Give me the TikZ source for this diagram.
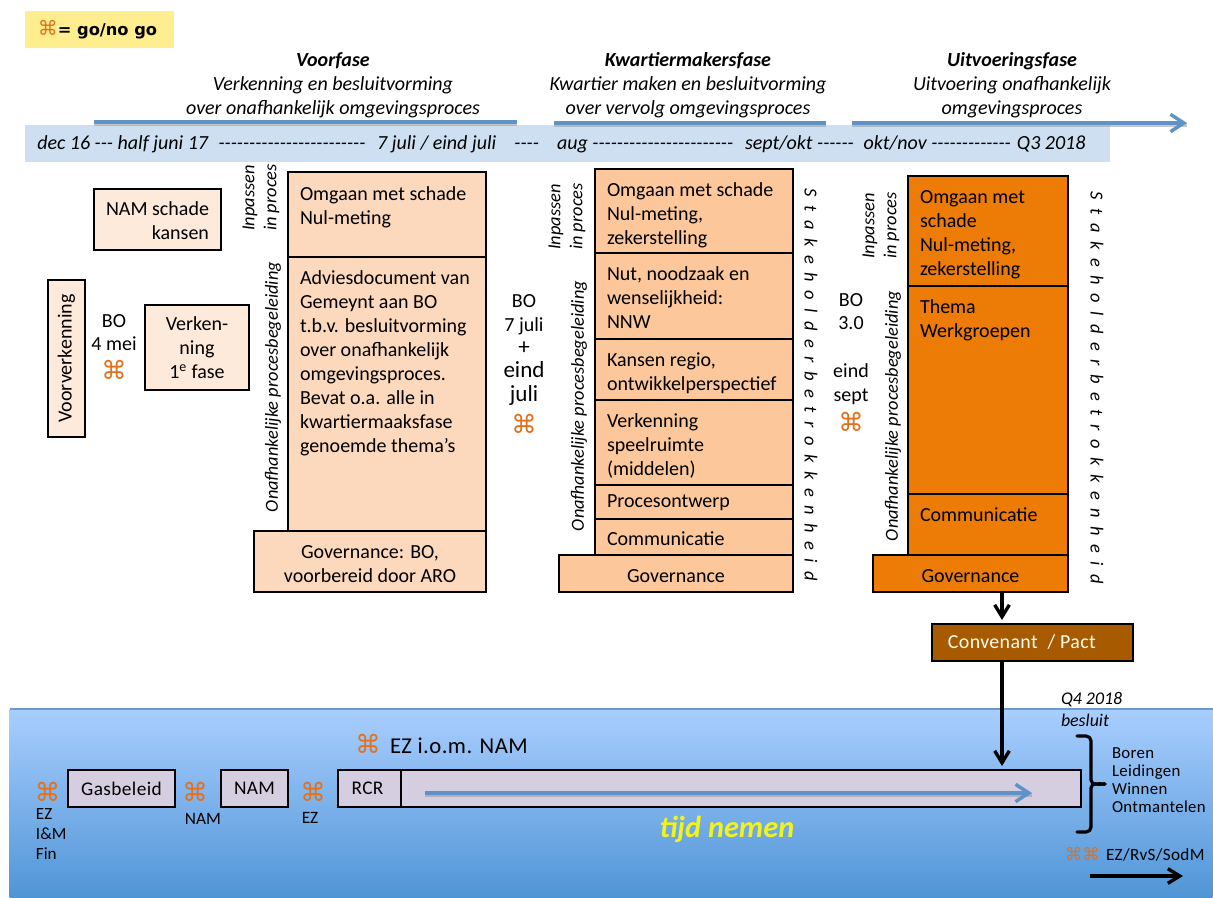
\documentclass[tikz,border=0pt]{standalone}
\usepackage{fontspec}
\setmainfont{Carlito}[Ligatures=TeXOff]
\newfontfamily\djfont{DejaVu Sans}
\newfontfamily\lsp{Carlito}[Ligatures=TeXOff,LetterSpace=2]
\usetikzlibrary{arrows.meta,calc}
\definecolor{cmdorange}{HTML}{E3701A}
\definecolor{legendyel}{HTML}{FFEE8F}
\definecolor{band}{HTML}{CEDFF1}
\definecolor{linkblue}{HTML}{5F93C8}
\definecolor{paleA}{HTML}{FDEADA}
\definecolor{fillA}{HTML}{FCD9BC}
\definecolor{fillB}{HTML}{FCC89B}
\definecolor{fillC}{HTML}{EC7C05}
\definecolor{brownC}{HTML}{A85A00}
\definecolor{barlil}{HTML}{D5CDE0}
\definecolor{paneltop}{HTML}{A9CEFF}
\definecolor{panelbot}{HTML}{4F95D6}
\definecolor{panelln}{HTML}{6A9BD0}
\definecolor{tijdyel}{HTML}{F2F21E}
\newcommand\fA{\fontsize{15}{17.8}\selectfont}
\newcommand\fB{\fontsize{15}{17.8}\selectfont}
\newcommand\fH{\fontsize{15}{18}\selectfont}
\newcommand\cmdsym[1][16]{{\djfont\fontsize{#1}{#1}\selectfont\textcolor{cmdorange}{⌘}}}
\newcommand\stk{\spaceskip=6.4pt\relax S t a k e h o l d e r b e t r o k k e n h e i d}
\newcommand\dn{\rule{0pt}{13.5pt}}
\tikzset{
  bx/.style={draw=black,line width=1.9pt,inner sep=0pt,outer sep=0pt,line join=miter},
  cbx/.style={bx,align=center,font=\fA},
  txt/.style={inner sep=0pt,outer sep=0pt,align=center},
  side/.style={txt,rotate=90,anchor=west,align=left,font=\fontsize{13.8}{16.5}\selectfont\itshape},
  blk/.style={draw=black,line width=2.5pt,-{Straight Barb[length=9pt,width=11pt,line width=2.5pt]},shorten >=3pt},
  linkln/.style={draw=linkblue,line width=2.6pt},
  shad/.style={draw=black!40,line width=2.4pt,opacity=.55}
}
\newlength\pbw\newlength\pbh
% name x1 y1 x2 y2 style pad text
\newcommand\pb[8]{%
  \pgfmathsetlength\pbw{(#4-#2)*0.75pt}\pgfmathsetlength\pbh{(#5-#3)*0.75pt}%
  \node[bx,#6] (#1) at ({(#2+#4)/2},{(#3+#5)/2}) {\parbox[c][\pbh][t]{\pbw}{\fA\raggedright\leftskip=9pt\relax\vspace*{#7pt}\strut #8\par}};}
% name x1 y1 x2 y2 style text
\newcommand\cb[7]{%
  \node[cbx,#6,minimum width={(#4-#2)*0.75pt},minimum height={(#5-#3)*0.75pt}] (#1) at ({(#2+#4)/2},{(#3+#5)/2}) {#7};}
\newcommand\seg[2]{\makebox[0pt][l]{\hspace*{#1pt}#2}}
\begin{document}
\begin{tikzpicture}[x=0.75pt,y=-0.75pt]
\useasboundingbox (0,0) rectangle (1213,898);
% legend
\node[fill=legendyel,minimum width=111.75pt,minimum height=27.75pt,inner sep=0pt] (legend) at (99.5,29.5) {\hspace*{-3pt}\cmdsym[15]{\djfont\fontsize{12.2}{14}\selectfont\bfseries = go/no go}};
% headers
\node[txt,font=\fH\itshape] (hvoor) at (333,85) {\textbf{Voorfase}\\Verkenning en besluitvorming\\over onafhankelijk omgevingsproces};
\node[txt,font=\fH\itshape] (hkw) at (688,85) {\textbf{Kwartiermakersfase}\\Kwartier maken en besluitvorming\\over vervolg omgevingsproces};
\node[txt,font=\fH\itshape] (huit) at (1012,85) {\textbf{Uitvoeringsfase}\\Uitvoering onafhankelijk\\omgevingsproces};
% date band
\node[fill=band,minimum width=813.75pt,minimum height=27.75pt,inner sep=0pt] (band) at (567.5,143.5) {};
\coordinate (l1a) at (94,122);\coordinate (l1b) at (517,122);
\coordinate (l2a) at (554,123);\coordinate (l2b) at (826,123);
\coordinate (l3a) at (852,123);\coordinate (l3b) at (1187,123);
\draw[shad] ([yshift=-1.5pt]l1a) -- ([yshift=-1.5pt]l1b);
\draw[shad] ([yshift=-1.5pt]l2a) -- ([yshift=-1.5pt]l2b);
\draw[shad] ([yshift=-1.5pt]l3a) -- ([yshift=-1.5pt]l3b);
\draw[linkln] (l1a) -- (l1b);
\draw[linkln] (l2a) -- (l2b);
\draw[linkln,-{Straight Barb[length=10pt,width=13pt,line width=2.6pt]}] (l3a) -- (l3b);
\node[inner sep=0pt,anchor=base west,font=\fH\itshape] (dates) at (37,150) {%
\seg{0}{dec 16 --- half juni 17}\seg{136}{------------------------}\seg{255}{7 juli / eind juli}\seg{358}{----}\seg{390}{aug -----------------------}\seg{531}{sept/okt ------}\seg{620}{okt/nov -------------}\seg{735}{Q3 2018}\hspace*{790pt}};
% left boxes
\cb{namsch}{94}{189}{221}{250}{fill=paleA}{\begin{tabular}{@{}r@{}}\rule{0pt}{17.5pt}NAM schade\\kansen\end{tabular}}
\node[cbx,fill=paleA,rotate=90,minimum width=117.75pt,minimum height=27.75pt] (vvk) at (66.5,358.5) {Voorverkenning};
\cb{verk}{145}{305}{249}{390}{fill=paleA}{Verken-\\ning\\1\textsuperscript{e} fase}
\node[txt,font=\fB] (bo1) at (114,332.5) {BO\\4 mei};
\node[txt] (c1) at (114,370) {\cmdsym[19]};
% voorfase
\pb{vA}{288}{172}{486}{257}{fill=fillA}{9.2}{Omgaan met schade\\Nul-meting}
\pb{vB}{288}{257}{486}{531}{fill=fillA}{8.5}{\fontsize{15}{18}\selectfont Adviesdocument van\\Gemeynt aan BO\\t.b.v. besluitvorming\\over onafhankelijk\\omgevingsproces.\\Bevat o.a. alle in\\kwartiermaaksfase\\genoemde thema’s}
\cb{vG}{254}{531}{486}{592}{fill=fillA}{\dn Governance: BO,\\voorbereid door ARO}
\node[side] (s1) at (261,231) {Inpassen\\in proces};
\node[side] (s2) at (273,512) {Onafhankelijke procesbegeleiding};
% BO 7 juli
\node[txt,font=\fB] (bo2) at (524,314.5) {BO\\7 juli};
\node[txt,font=\fontsize{17.3}{17.8}\selectfont] (bo2b) at (524,373.5) {+\\eind\\juli};
\node[txt] (c2) at (524,424) {\cmdsym[19]};
% kwartier
\pb{kA}{595}{169}{793}{253}{fill=fillB}{8.5}{Omgaan met schade\\Nul-meting,\\zekerstelling}
\pb{kB}{595}{253}{793}{339}{fill=fillB}{8.5}{Nut, noodzaak en\\wenselijkheid:\\NNW}
\pb{kC}{595}{339}{793}{400}{fill=fillB}{8.5}{Kansen regio,\\ontwikkelperspectief}
\pb{kD}{595}{400}{793}{485}{fill=fillB}{8.5}{Verkenning\\speelruimte\\(middelen)}
\pb{kE}{595}{485}{793}{519}{fill=fillB}{4.5}{Procesontwerp}
\pb{kF}{595}{519}{793}{555}{fill=fillB}{7.5}{Communicatie}
\cb{kG}{559}{555}{793}{592}{fill=fillB}{\dn Governance}
\node[side] (s3) at (567,250) {Inpassen\\in proces};
\node[side] (s4) at (579,531) {Onafhankelijke procesbegeleiding};
\node[txt,rotate=-90,anchor=west,font=\fontsize{13.8}{16}\selectfont\itshape] (st1) at (811,189) {\stk};
% BO 3.0
\node[txt,font=\fB] (bo3) at (851,311.5) {BO\\3.0};
\node[txt,font=\fB] (bo3b) at (851,384) {eind\\sept};
\node[txt] (c3) at (851,422) {\cmdsym[19]};
% uitvoering
\pb{uA}{908}{176}{1068}{286}{fill=fillC}{8.5}{Omgaan met\\schade\\Nul-meting,\\zekerstelling}
\pb{uB}{908}{286}{1068}{494}{fill=fillC}{8.5}{Thema\\Werkgroepen}
\pb{uC}{908}{494}{1068}{555}{fill=fillC}{8.5}{Communicatie}
\cb{uG}{873}{555}{1068}{592}{fill=fillC}{\dn Governance}
\node[side] (s5) at (881,259) {Inpassen\\in proces};
\node[side] (s6) at (893,541) {Onafhankelijke procesbegeleiding};
\node[txt,rotate=-90,anchor=west,font=\fontsize{13.8}{16}\selectfont\itshape] (st2) at (1097,192) {\stk};
% panel
\node[top color=paneltop,bottom color=panelbot,minimum width=902.25pt,minimum height=141.75pt,inner sep=0pt,outer sep=0pt] (panel) at (611,803.5) {};
\draw[panelln,line width=1.5pt] (panel.north west) -- (panel.north east);
% convenant
\cb{conv}{932}{624}{1133}{661}{fill=brownC,text=white!95!yellow,font=\lsp\fontsize{14.9}{15}\selectfont}{Convenant\ \ / Pact\hspace*{16pt}}
% bottom row
\cb{gas}{68}{770}{175}{807}{fill=barlil,font=\lsp\fontsize{14.5}{15}\selectfont}{Gasbeleid}
\cb{nam}{221}{770}{288}{807}{fill=barlil,font=\lsp\fontsize{14.5}{15}\selectfont}{NAM}
\cb{rcr}{338}{770}{401}{807}{fill=barlil,font=\lsp\fontsize{14.5}{15}\selectfont}{RCR\hspace*{3pt}}
\cb{bar}{401}{770}{1081}{807}{fill=barlil}{}
\coordinate (tap) at (1002,0);
\draw[blk] (tap |- uG.south) -- (tap |- conv.north);
\draw[blk] (tap |- conv.south) -- (tap |- bar.north);
\coordinate (ba) at (425,793);\coordinate (bb) at (1032,793);
\draw[shad] ([yshift=-1.5pt]ba) -- ([yshift=-1.5pt]bb);
\draw[linkln,-{Straight Barb[length=10pt,width=13pt,line width=2.6pt]}] (ba) -- (bb);
\node[txt] (c4) at (47.5,792) {\cmdsym[19]};
\node[txt] (c5) at (195,792) {\cmdsym[19]};
\node[txt] (c6) at (313,792) {\cmdsym[19]};
\node[txt] (c7) at (368,744) {\cmdsym[19]};
\node[txt,anchor=west,font=\lsp\fontsize{17}{18}\selectfont] (eziom) at (390,746) {EZ i.o.m. NAM};
\node[txt,anchor=north west,align=left,font=\fontsize{12.8}{15}\selectfont] (ezl) at (36,809) {EZ\\I\&M\\Fin};
\node[txt,font=\fontsize{13}{15}\selectfont] (naml) at (203,819) {NAM};
\node[txt,font=\fontsize{13}{15}\selectfont] (ezl2) at (310,818) {EZ};
\node[txt,text=tijdyel,font=\fontsize{22.8}{24}\selectfont\bfseries\itshape] (tijd) at (727,829) {tijd nemen};
\node[txt,anchor=north west,align=left,font=\fontsize{13.4}{16.5}\selectfont\itshape] (q4) at (1061,692) {Q4 2018\\besluit};
\node[txt,anchor=north west,align=left,font=\lsp\fontsize{12.6}{13.5}\selectfont] (boren) at (1112,748) {Boren\\Leidingen\\Winnen\\Ontmantelen};
\node[txt,anchor=west] (c8) at (1065,854) {\cmdsym[13]\cmdsym[13]};
\node[txt,anchor=west,font=\lsp\fontsize{12.9}{13}\selectfont] (ezrvs) at (1106,855) {EZ/RvS/SodM};
% brace
\coordinate (bt) at (1077,736);\coordinate (bm) at (1091,784);\coordinate (bd) at (1077,832);\coordinate (btip) at (1105,784);
\draw[black,line width=2.4pt,line cap=round,line join=round] (bt) -- ++(9,0) to[out=0,in=90] ++(5,5) -- ([yshift=3pt]bm) to[out=-90,in=180] (btip);
\draw[black,line width=2.4pt,line cap=round,line join=round] (bd) -- ++(9,0) to[out=0,in=-90] ++(5,-5) -- ([yshift=-3pt]bm) to[out=90,in=180] (btip);
\coordinate (ara) at (1090,876);\coordinate (arb) at (1183,876);
\draw[blk,shorten >=0pt] (ara) -- (arb);
\end{tikzpicture}
\end{document}
